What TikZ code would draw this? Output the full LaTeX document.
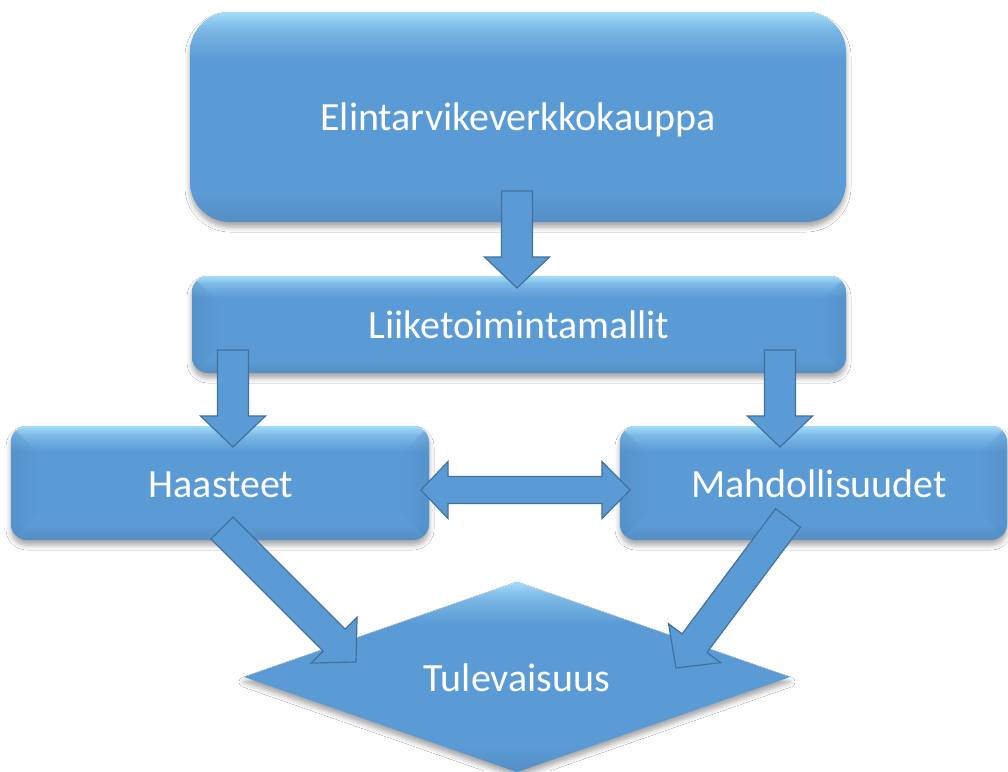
\documentclass[tikz,border=0pt]{standalone}
\usepackage{fontspec}
\setmainfont{Carlito}
\usetikzlibrary{calc,shadows.blur,fadings}
\definecolor{main}{HTML}{5B9BD5}
\definecolor{lightc}{HTML}{A3DDFA}
\definecolor{edgec}{HTML}{41719C}
\definecolor{sidec}{HTML}{4A84BC}
\pgfdeclareverticalshading{boxshade}{100bp}{color(0bp)=(main!92!black); color(25bp)=(main!92!black); color(32bp)=(main); color(64bp)=(main); color(71bp)=(main!55!lightc); color(75bp)=(lightc); color(100bp)=(lightc)}
\tikzfading[name=fadeR, left color=transparent!65, right color=transparent!100]
\tikzfading[name=fadeL, left color=transparent!100, right color=transparent!65]
\newcommand\blockarrow[2]{%
  \coordinate (ba-h) at ($(#2)!31pt!(#1)$);
  \draw[arr] ($(#1)!15.5pt!90:(#2)$) -- ($(ba-h)!15.5pt!90:(#2)$) -- ($(ba-h)!32.5pt!90:(#2)$) -- (#2)
    -- ($(ba-h)!32.5pt!-90:(#2)$) -- ($(ba-h)!15.5pt!-90:(#2)$) -- ($(#1)!15.5pt!-90:(#2)$) -- cycle;}
\newcommand\bevelsides[3]{% node, depth, radius
  \begin{scope}
    \clip[rounded corners=#3] (#1.north west) rectangle (#1.south east);
    \fill[sidec, path fading=fadeR] ($(#1.north west)$) -- ($(#1.north west)+(#2,#2)$) -- ($(#1.south west)+(#2,-#2)$) -- ($(#1.south west)$) -- cycle;
    \fill[sidec, path fading=fadeL] ($(#1.north east)$) -- ($(#1.north east)+(-#2,#2)$) -- ($(#1.south east)+(-#2,-#2)$) -- ($(#1.south east)$) -- cycle;
  \end{scope}}
\begin{document}
\begin{tikzpicture}[x=1pt,y=-1pt,
  boxbase/.style={draw=none, inner sep=0pt, shading=boxshade,
    blur shadow={shadow xshift=0pt, shadow yshift=-5pt, shadow blur radius=5pt, shadow opacity=35}},
  lbl/.style={text=white, font=\fontsize{40}{48}\selectfont, anchor=base, inner sep=0pt},
  arr/.style={fill=main, draw=edgec, line width=1.2pt, line join=miter}]
\useasboundingbox (0,0) rectangle (1008,771);
\fill[white] (0,0) rectangle (1008,771);

% boxes
\node[boxbase, rounded corners=40pt, minimum width=656pt, minimum height=210pt] (b1) at (518,117) {};
\node[boxbase, rounded corners=16pt, minimum width=654pt, minimum height=97pt] (b2) at (519,324.5) {};
\node[boxbase, rounded corners=16pt, minimum width=418pt, minimum height=114pt] (b3) at (220,483) {};
\node[boxbase, rounded corners=16pt, minimum width=387pt, minimum height=114pt] (b4) at (813.5,483) {};
\bevelsides{b2}{28}{16pt}
\bevelsides{b3}{30}{16pt}
\bevelsides{b4}{30}{16pt}

% diamond
\coordinate (dtop) at (517,582);
\coordinate (dright) at (790,677);
\coordinate (dbot) at (517,772);
\coordinate (dleft) at (244,677);
\path[shading=boxshade, blur shadow={shadow xshift=0pt, shadow yshift=-5pt, shadow blur radius=5pt, shadow opacity=35}]
  (dtop) -- (dright) -- (dbot) -- (dleft) -- cycle;

% labels
\node[lbl] (t1) at (518,130) {Elintarvikeverkkokauppa};
\node[lbl] (t2) at (519,338) {Liiketoimintamallit};
\node[lbl] (t3) at (221,497) {Haasteet};
\node[lbl] (t4) at (819,497) {Mahdollisuudet};
\node[lbl] (t5) at (517,691) {Tulevaisuus};

% arrow end points
\coordinate (a1s) at (517,191);  \coordinate (a1e) at (517,288);
\coordinate (a2s) at (233,350);  \coordinate (a2e) at (233,447);
\coordinate (a3s) at (780,350);  \coordinate (a3e) at (780,447);
\coordinate (a4s) at (222,528);  \coordinate (a4e) at (356,662);
\coordinate (a5s) at (788,518);  \coordinate (a5e) at (676,668);
\coordinate (dl) at (421,490);   \coordinate (dr) at (630,490);

\blockarrow{a1s}{a1e}
\blockarrow{a2s}{a2e}
\blockarrow{a3s}{a3e}
\blockarrow{a4s}{a4e}
\blockarrow{a5s}{a5e}

% double arrow
\draw[arr] (dl) -- ($(dl)+(27,-28.5)$) -- ($(dl)+(27,-13.5)$) -- ($(dr)+(-28,-13.5)$) -- ($(dr)+(-28,-28.5)$)
  -- (dr) -- ($(dr)+(-28,28.5)$) -- ($(dr)+(-28,13.5)$) -- ($(dl)+(27,13.5)$) -- ($(dl)+(27,28.5)$) -- cycle;
\end{tikzpicture}
\end{document}
